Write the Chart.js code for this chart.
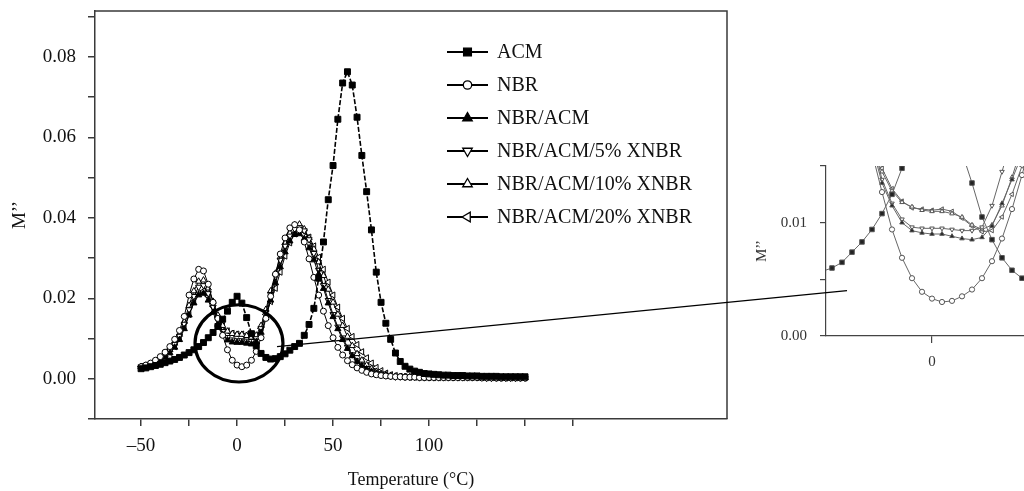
<!DOCTYPE html>
<html><head><meta charset="utf-8">
<script src="https://cdn.jsdelivr.net/npm/chart.js@4.4.1/dist/chart.umd.min.js"></script>
<style>
html,body{margin:0;padding:0;background:#fff;overflow:hidden}
#wrap{position:relative;width:1024px;height:491px}
canvas{position:absolute;left:0;top:0}
</style></head><body>
<div id="wrap"><canvas id="main" width="1024" height="491"></canvas><canvas id="inset" width="1024" height="491"></canvas></div>
<script>
// ---------- data (main chart) ----------
const temperatures = [-50,-47.5,-45,-42.5,-40,-37.5,-35,-32.5,-30,-27.5,-25,-22.5,-20,-17.5,-15,-12.5,-10,-7.5,-5,-2.5,0,2.5,5,7.5,10,12.5,15,17.5,20,22.5,25,27.5,30,32.5,35,37.5,40,42.5,45,47.5,50,52.5,55,57.5,60,62.5,65,67.5,70,72.5,75,77.5,80,82.5,85,87.5,90,92.5,95,97.5,100,102.5,105,107.5,110,112.5,115,117.5,120,122.5,125,127.5,130,132.5,135,137.5,140,142.5,145,147.5,150];
const acm = [0.0025,0.0027,0.003,0.0033,0.0036,0.004,0.0044,0.0048,0.0053,0.0059,
 0.0065,0.0072,0.008,0.009,0.0102,0.0115,0.013,0.0148,0.0168,0.019,
 0.0205,0.0188,0.0152,0.0112,0.0082,0.0063,0.0053,0.0049,0.005,0.0055,
 0.0062,0.0071,0.008,0.0088,0.0108,0.0135,0.0175,0.025,0.034,0.0445,
 0.053,0.0645,0.0735,0.0763,0.073,0.065,0.0555,0.0465,0.037,0.0265,
 0.019,0.0138,0.0098,0.0064,0.0043,0.0031,0.0024,0.0019,0.0016,0.0013,
 0.0012,0.0011,0.001,0.0009,0.0009,0.0008,0.0008,0.0008,0.0007,0.0007,
 0.0007,0.0006,0.0006,0.0006,0.0006,0.0005,0.0005,0.0005,0.0005,0.0005,0.0005];
const nbr = [0.003,0.0034,0.0039,0.0046,0.0055,0.0066,0.008,0.0098,0.012,0.0155,
 0.0208,0.0248,0.0272,0.0268,0.0235,0.019,0.015,0.0108,0.0072,0.0046,
 0.0034,0.003,0.0034,0.0046,0.0068,0.0102,0.015,0.0205,0.026,0.031,
 0.035,0.0375,0.0383,0.037,0.034,0.0298,0.0252,0.0208,0.0168,0.0132,
 0.0102,0.0078,0.0059,0.0045,0.0035,0.0027,0.0021,0.0016,0.0012,0.001,
 0.0008,0.0007,0.0006,0.0005,0.0005,0.0004,0.0004,0.0004,0.0003,0.0003,
 0.0003,0.0003,0.0003,0.0003,0.0003,0.0003,0.0003,0.0003,0.0003,0.0003,
 0.0003,0.0002,0.0002,0.0002,0.0002,0.0002,0.0002,0.0002,0.0002,0.0002,0.0002];
const nbrAcm = [0.003,0.0032,0.0036,0.004,0.0046,0.0054,0.0064,0.0078,0.0097,0.0124,
 0.0158,0.0188,0.0208,0.0212,0.0195,0.0165,0.0135,0.011,0.0096,0.0091,
 0.009,0.009,0.0088,0.0086,0.0092,0.0115,0.0152,0.0195,0.0238,0.0278,
 0.0315,0.0342,0.0358,0.036,0.0348,0.0325,0.0295,0.026,0.0224,0.0188,
 0.0154,0.0124,0.0097,0.0075,0.0057,0.0043,0.0032,0.0024,0.0018,0.0013,
 0.001,0.0008,0.0006,0.0005,0.0005,0.0004,0.0004,0.0004,0.0003,0.0003,
 0.0003,0.0003,0.0003,0.0003,0.0003,0.0003,0.0003,0.0003,0.0003,0.0003,
 0.0003,0.0002,0.0002,0.0002,0.0002,0.0002,0.0002,0.0002,0.0002,0.0002,0.0002];
const xnbr5 = [0.003,0.0033,0.0037,0.0042,0.0049,0.0058,0.007,0.0086,0.0106,0.0136,
 0.0172,0.0205,0.0228,0.0232,0.0212,0.0178,0.0145,0.0118,0.0103,0.0097,
 0.0095,0.0095,0.0094,0.0093,0.01,0.0125,0.0165,0.021,0.0255,0.0295,
 0.033,0.0355,0.0372,0.0376,0.0368,0.0346,0.0312,0.027,0.0232,0.0195,
 0.016,0.0129,0.0102,0.0079,0.006,0.0045,0.0034,0.0026,0.0019,0.0014,
 0.001,0.0008,0.0006,0.0005,0.0005,0.0004,0.0004,0.0004,0.0003,0.0003,
 0.0003,0.0003,0.0003,0.0003,0.0003,0.0003,0.0003,0.0003,0.0003,0.0003,
 0.0003,0.0003,0.0002,0.0002,0.0002,0.0002,0.0002,0.0002,0.0002,0.0002,0.0002];
const xnbr10 = [0.003,0.0033,0.0037,0.0043,0.005,0.006,0.0072,0.0088,0.011,0.0142,
 0.0182,0.0218,0.0242,0.0245,0.0225,0.0192,0.0158,0.0132,0.0118,0.0112,
 0.011,0.011,0.0107,0.0103,0.0108,0.0132,0.0172,0.0218,0.0262,0.0302,
 0.0338,0.0362,0.0382,0.0384,0.0372,0.035,0.0322,0.029,0.0256,0.0222,
 0.019,0.016,0.0132,0.0105,0.0082,0.0062,0.0046,0.0034,0.0025,0.0018,
 0.0013,0.001,0.0008,0.0006,0.0005,0.0005,0.0004,0.0004,0.0004,0.0003,
 0.0003,0.0003,0.0003,0.0003,0.0003,0.0003,0.0003,0.0003,0.0003,0.0003,
 0.0003,0.0003,0.0003,0.0002,0.0002,0.0002,0.0002,0.0002,0.0002,0.0002,0.0002];
const xnbr20 = [0.003,0.0033,0.0036,0.0041,0.0047,0.0055,0.0066,0.008,0.01,0.0128,
 0.016,0.0192,0.0212,0.0218,0.0205,0.018,0.0153,0.0132,0.0119,0.0113,
 0.0111,0.0111,0.011,0.0104,0.0106,0.0125,0.016,0.0192,0.0225,0.0265,
 0.0305,0.0338,0.036,0.037,0.0366,0.0352,0.033,0.0302,0.0272,0.024,
 0.0208,0.0178,0.015,0.0125,0.0105,0.0085,0.0067,0.0052,0.0039,0.0028,
 0.002,0.0014,0.001,0.0008,0.0006,0.0005,0.0004,0.0004,0.0004,0.0003,
 0.0003,0.0003,0.0003,0.0003,0.0003,0.0003,0.0003,0.0003,0.0003,0.0003,
 0.0003,0.0003,0.0003,0.0003,0.0002,0.0002,0.0002,0.0002,0.0002,0.0002,0.0002];
const seriesNames = ['ACM','NBR','NBR/ACM','NBR/ACM/5% XNBR','NBR/ACM/10% XNBR','NBR/ACM/20% XNBR'];
const xTickLabels = ['–50','0','50','100'];
const yTickLabels = ['0.00','0.02','0.04','0.06','0.08'];

// ---------- data (zoomed inset) ----------
const insetTemps = [-17.6,-16,-14.4,-12.8,-11.2,-9.6,-8,-6.4,-4.8,-3.2,-1.6,0,1.6,3.2,4.8,6.4,8,9.6,11.2,12.8,14.4,16];
const insetAcm = [0.0057,0.006,0.0065,0.0074,0.0083,0.0094,0.0108,0.0125,0.0148,0.0175,0.02,0.021,0.02,0.018,0.0162,0.0135,0.0105,0.0085,0.0069,0.0058,0.0051,0.0047];
const insetNbr = [0.031,0.028,0.025,0.022,0.019,0.0162,0.0127,0.0094,0.0069,0.0051,0.0039,0.0033,0.003,0.0031,0.0035,0.0041,0.0051,0.0066,0.0086,0.0112,0.0142,0.0175];
const insetNbrAcm = [0.032,0.029,0.026,0.023,0.02,0.0168,0.0135,0.0115,0.01,0.0093,0.0091,0.009,0.009,0.0088,0.0086,0.0085,0.0087,0.0097,0.0117,0.0138,0.016,0.018];
const insetX5 = [0.033,0.03,0.027,0.024,0.021,0.0175,0.0138,0.0117,0.0103,0.0096,0.0095,0.0095,0.0095,0.0094,0.0093,0.0093,0.0096,0.0115,0.0145,0.0175,0.021,0.025];
const insetX10 = [0.031,0.028,0.025,0.022,0.019,0.0165,0.0145,0.0128,0.0118,0.0114,0.0111,0.011,0.011,0.0108,0.0105,0.0098,0.0094,0.0098,0.0115,0.014,0.0168,0.02];
const insetX20 = [0.0315,0.0285,0.0255,0.0225,0.0195,0.017,0.0148,0.013,0.0119,0.0113,0.0112,0.0111,0.0112,0.011,0.0104,0.0097,0.0092,0.0093,0.0105,0.0125,0.015,0.018];
const insetXTickLabels = ['0'];
const insetYTickLabels = ['0.00','0.01'];

// ---------- styles ----------
const FONT = "'Liberation Serif', 'Times New Roman', serif";
const AXIS = '#3a3a3a';
const markerStyles = [
  {pointStyle:'rect', rotation:0, radius:4.2, fill:'#000', dash:[5,2]},
  {pointStyle:'circle', rotation:0, radius:3, fill:'#fff', dash:[]},
  {pointStyle:'triangle', rotation:0, radius:3.6, fill:'#000', dash:[]},
  {pointStyle:'triangle', rotation:180, radius:3.6, fill:'#fff', dash:[]},
  {pointStyle:'triangle', rotation:0, radius:3.6, fill:'#fff', dash:[]},
  {pointStyle:'triangle', rotation:270, radius:3.6, fill:'#fff', dash:[]}
];
const mainSeries = [acm, nbr, nbrAcm, xnbr5, xnbr10, xnbr20];
const insetSeries = [insetAcm, insetNbr, insetNbrAcm, insetX5, insetX10, insetX20];
// annotation anchors in data units
const zoomCircle = {t: 1, v: 0.0088, rt: 22.9, rv: 0.0096};
const connectorFrom = {t: 20.8, v: 0.0080};
const connectorTo = {t: -13.6, v: 0.0040};

function drawMarker(ctx, st, r, x, y, fill, stroke, lw) {
  ctx.save();
  ctx.beginPath();
  if (st.pointStyle === 'rect') { const s = r * Math.SQRT1_2; ctx.rect(x - s, y - s, 2 * s, 2 * s); }
  else if (st.pointStyle === 'circle') { ctx.arc(x, y, r, 0, Math.PI * 2); }
  else {
    let a = st.rotation * Math.PI / 180;
    ctx.moveTo(x + Math.sin(a) * r, y - Math.cos(a) * r);
    for (let i = 0; i < 2; i++) { a += 2 * Math.PI / 3; ctx.lineTo(x + Math.sin(a) * r, y - Math.cos(a) * r); }
    ctx.closePath();
  }
  ctx.fillStyle = fill; ctx.fill();
  ctx.lineWidth = lw; ctx.strokeStyle = stroke; ctx.stroke();
  ctx.restore();
}

const framePlugin = {
  id: 'frame',
  afterDraw(chart) {
    const {ctx, chartArea: a} = chart;
    ctx.save();
    ctx.strokeStyle = AXIS; ctx.lineWidth = 1.5;
    ctx.beginPath();
    ctx.moveTo(a.left, a.top); ctx.lineTo(a.right, a.top); ctx.lineTo(a.right, a.bottom);
    ctx.stroke();
    ctx.restore();
  }
};
const circlePlugin = {
  id: 'zoomCircle',
  afterDatasetsDraw(chart) {
    const {ctx, scales: {x, y}} = chart;
    const cx = x.getPixelForValue(zoomCircle.t), cy = y.getPixelForValue(zoomCircle.v);
    const rx = x.getPixelForValue(zoomCircle.t + zoomCircle.rt) - cx;
    const ry = cy - y.getPixelForValue(zoomCircle.v + zoomCircle.rv);
    ctx.save();
    ctx.strokeStyle = '#000'; ctx.lineWidth = 3.2;
    ctx.beginPath(); ctx.ellipse(cx, cy, rx, ry, 0, 0, Math.PI * 2); ctx.stroke();
    ctx.restore();
  }
};
const legendPlugin = {
  id: 'lineLegend',
  afterDraw(chart) {
    const {ctx} = chart;
    const x0 = 447, x1 = 488, tx = 497, y0 = 52, dy = 33;
    ctx.save();
    ctx.font = '20px ' + FONT;
    ctx.textBaseline = 'middle'; ctx.textAlign = 'left'; ctx.fillStyle = '#111';
    chart.data.datasets.forEach((ds, i) => {
      const st = markerStyles[i];
      const y = y0 + i * dy;
      ctx.strokeStyle = '#000'; ctx.lineWidth = 2.2;
      ctx.beginPath(); ctx.moveTo(x0, y); ctx.lineTo(x1, y); ctx.stroke();
      const r = st.pointStyle === 'rect' ? 5.5 : (st.pointStyle === 'circle' ? 4.2 : 5.5);
      drawMarker(ctx, st, r, (x0 + x1) / 2, y, st.fill, '#000', 1.3);
      ctx.fillStyle = '#111';
      ctx.fillText(ds.label, tx, y + 1);
    });
    ctx.restore();
  }
};

const xTickValues = xTickLabels.map(s => Number(s.replace('–', '-')));
const yTickValues = yTickLabels.map(Number);

const mainChart = new Chart(document.getElementById('main'), {
  type: 'line',
  data: {
    datasets: mainSeries.map((vals, i) => ({
      label: seriesNames[i],
      data: temperatures.map((t, k) => ({x: t, y: vals[k]})),
      borderColor: '#000',
      borderWidth: i === 0 ? 1.6 : 1,
      borderDash: markerStyles[i].dash,
      pointStyle: markerStyles[i].pointStyle,
      pointRotation: markerStyles[i].rotation,
      pointRadius: markerStyles[i].radius,
      pointBackgroundColor: markerStyles[i].fill,
      pointBorderColor: '#000',
      pointBorderWidth: 1,
      tension: 0
    }))
  },
  options: {
    responsive: false, animation: false, events: [],
    layout: {autoPadding: false, padding: {left: 0, top: 11, right: 297, bottom: 0}},
    plugins: {legend: {display: false}, tooltip: {enabled: false}},
    scales: {
      x: {
        type: 'linear', min: -74, max: 255.2,
        afterBuildTicks: ax => { ax.ticks = ax.ticks.filter(t => t.value >= -50 && t.value <= 175); },
        afterFit: s => { s.height = 72; s.paddingLeft = 0; s.paddingRight = 0; },
        ticks: {stepSize: 25, includeBounds: false, maxRotation: 0, autoSkip: false, padding: 9,
          color: '#111', font: {family: FONT, size: 19},
          callback: v => { const i = xTickValues.findIndex(t => Math.abs(t - v) < 1e-9); return i >= 0 ? xTickLabels[i] : ''; }},
        grid: {drawOnChartArea: false, drawTicks: true, tickLength: 7, color: AXIS, lineWidth: 1.5},
        border: {color: AXIS, width: 1.5},
        title: {display: true, text: 'Temperature (°C)', color: '#111', font: {family: FONT, size: 18, lineHeight: 1.2}, padding: {top: 0, bottom: 0}}
      },
      y: {
        type: 'linear', min: -0.01, max: 0.0914,
        afterFit: s => { s.width = 95; s.paddingTop = 0; s.paddingBottom = 0; },
        ticks: {stepSize: 0.01, includeBounds: false, autoSkip: false, padding: 12,
          color: '#111', font: {family: FONT, size: 19},
          callback: v => { const i = yTickValues.findIndex(t => Math.abs(t - v) < 1e-9); return i >= 0 ? yTickLabels[i] : ''; }},
        grid: {drawOnChartArea: false, drawTicks: true, tickLength: 7, color: AXIS, lineWidth: 1.5},
        border: {color: AXIS, width: 1.5},
        title: {display: true, text: 'M’’', color: '#111', font: {family: FONT, size: 19, lineHeight: 1.2}, padding: {top: 9, bottom: 0}}
      }
    }
  },
  plugins: [framePlugin, circlePlugin, legendPlugin]
});

const connectorPlugin = {
  id: 'connector',
  afterDraw(chart) {
    const {ctx, scales: {x, y}} = chart;
    const mx = mainChart.scales.x, my = mainChart.scales.y;
    ctx.save();
    ctx.strokeStyle = '#000'; ctx.lineWidth = 1.3;
    ctx.beginPath();
    ctx.moveTo(mx.getPixelForValue(connectorFrom.t), my.getPixelForValue(connectorFrom.v));
    ctx.lineTo(x.getPixelForValue(connectorTo.t), y.getPixelForValue(connectorTo.v));
    ctx.stroke();
    ctx.restore();
  }
};
const insetXTickValues = insetXTickLabels.map(Number);
const insetYTickValues = insetYTickLabels.map(Number);

new Chart(document.getElementById('inset'), {
  type: 'line',
  data: {
    datasets: insetSeries.map((vals, i) => ({
      label: seriesNames[i],
      data: insetTemps.map((t, k) => ({x: t, y: vals[k]})),
      borderColor: '#666',
      borderWidth: 1,
      pointStyle: markerStyles[i].pointStyle,
      pointRotation: markerStyles[i].rotation,
      pointRadius: markerStyles[i].pointStyle === 'rect' ? 3.2 : 2.6,
      pointBackgroundColor: markerStyles[i].fill === '#000' ? '#222' : '#fff',
      pointBorderColor: '#555',
      pointBorderWidth: 1,
      tension: 0
    }))
  },
  options: {
    responsive: false, animation: false, events: [],
    layout: {autoPadding: false, padding: {left: 740, top: 166, right: 0, bottom: 0}},
    plugins: {legend: {display: false}, tooltip: {enabled: false}},
    scales: {
      x: {
        type: 'linear', min: -16.96, max: 14.72,
        afterBuildTicks: ax => { ax.ticks = insetXTickValues.map(v => ({value: v})); },
        afterFit: s => { s.height = 155; s.paddingLeft = 0; s.paddingRight = 0; },
        ticks: {maxRotation: 0, autoSkip: false, padding: 10, color: '#333', font: {family: FONT, size: 15},
          callback: v => { const i = insetXTickValues.findIndex(t => Math.abs(t - v) < 1e-9); return i >= 0 ? insetXTickLabels[i] : ''; }},
        grid: {drawOnChartArea: false, drawTicks: true, tickLength: 7, color: '#444', lineWidth: 1.2},
        border: {color: '#444', width: 1.2}
      },
      y: {
        type: 'linear', min: 0, max: 0.015,
        afterFit: s => { s.width = 86; s.paddingTop = 0; s.paddingBottom = 0; },
        ticks: {stepSize: 0.005, autoSkip: false, padding: 13, color: '#333', font: {family: FONT, size: 15},
          callback: v => { const i = insetYTickValues.findIndex(t => Math.abs(t - v) < 1e-9); return i >= 0 ? insetYTickLabels[i] : ''; }},
        grid: {drawOnChartArea: false, drawTicks: true, tickLength: 6, color: '#444', lineWidth: 1.2},
        border: {color: '#444', width: 1.2},
        title: {display: true, text: 'M’’', color: '#333', font: {family: FONT, size: 15, lineHeight: 1.2}, padding: {top: 13, bottom: 0}}
      }
    }
  },
  plugins: [connectorPlugin]
});
</script>
</body></html>
